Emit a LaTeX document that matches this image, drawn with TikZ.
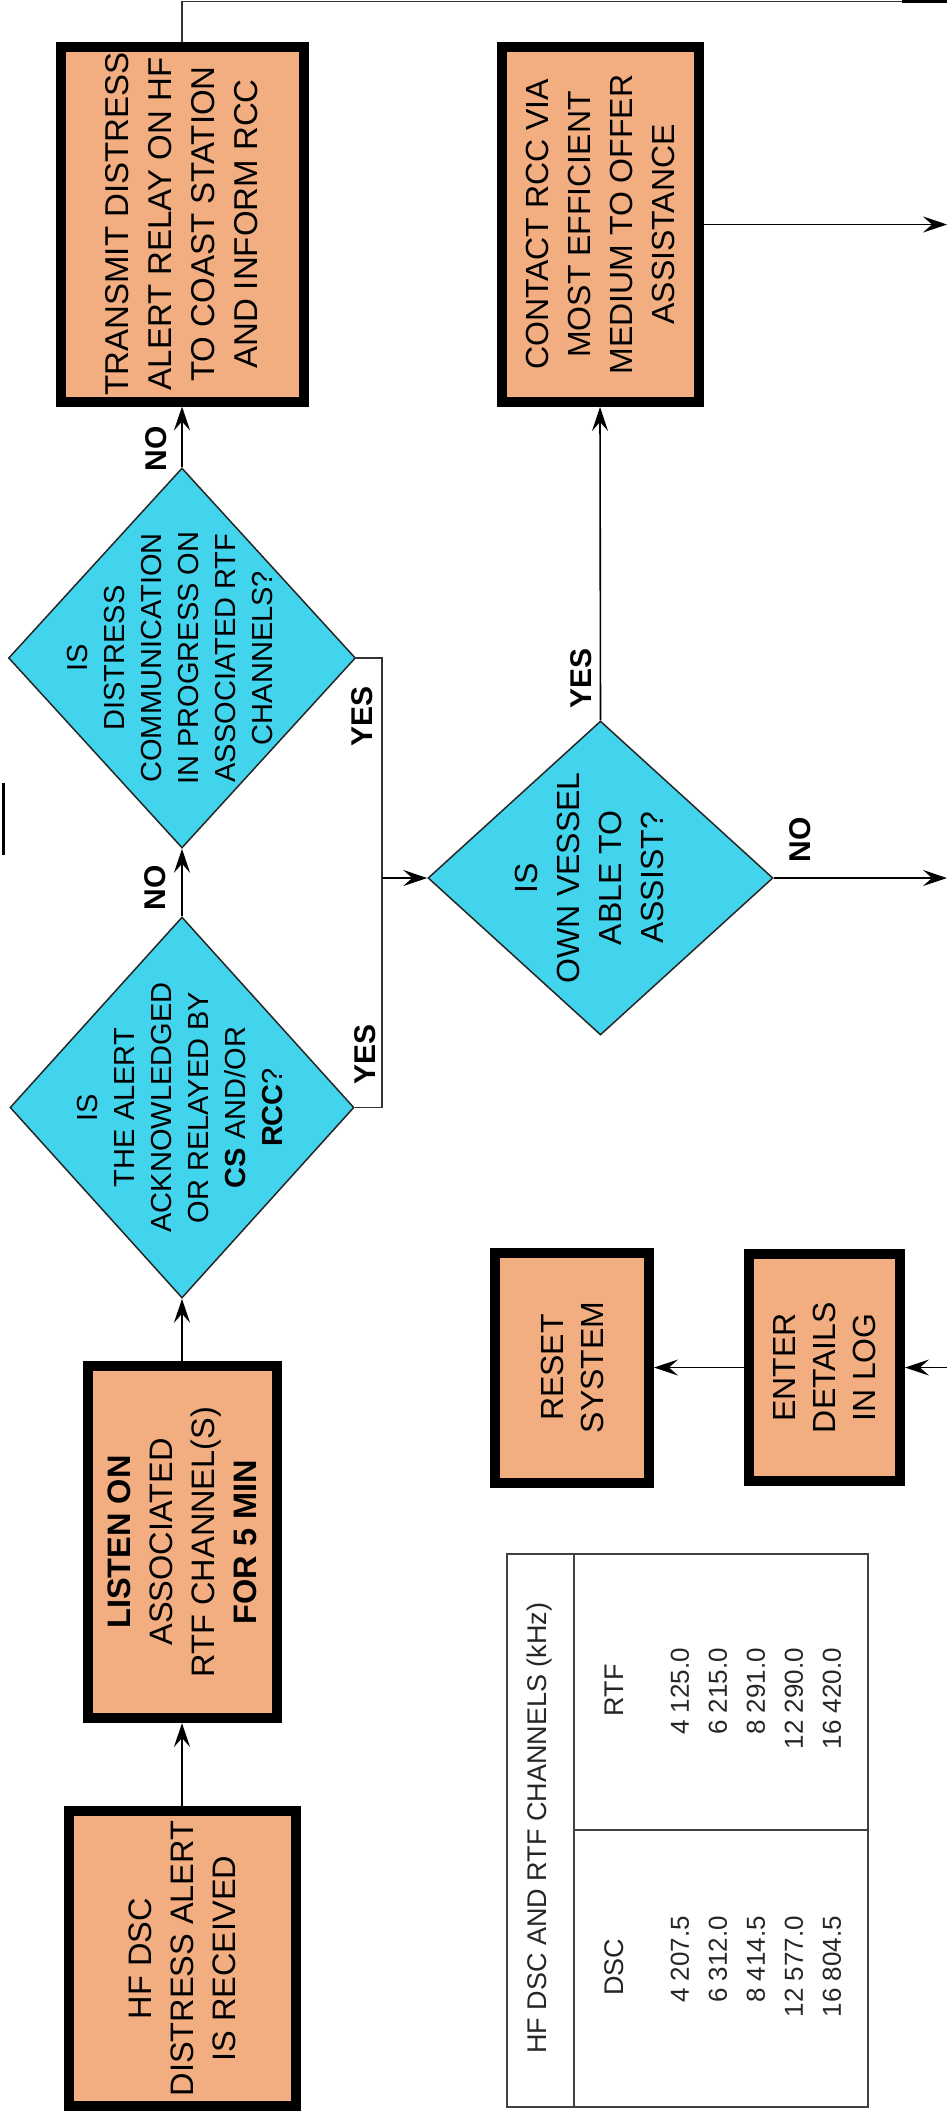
\documentclass[tikz,border=0pt]{standalone}
\usepackage{fontspec}
\setmainfont{Liberation Sans}
\usetikzlibrary{shapes.geometric,arrows.meta}
\definecolor{boxfill}{RGB}{242,174,128}
\definecolor{dfill}{RGB}{66,212,236}
\newcommand\zc[2][0pt]{\makebox[0pt]{\raisebox{\dimexpr-0.25em+#1\relax}[0pt][0pt]{$\vcenter{\hbox{\begin{tabular}{@{}c@{}}#2\end{tabular}}}$}}}
\begin{document}
\begin{tikzpicture}[x=1pt,y=-1pt,
  proc/.style={draw=black, line width=10pt, fill=boxfill, rotate=90, align=center, inner sep=0pt},
  dec/.style={diamond, draw=black!85, line width=1.5pt, fill=dfill, rotate=90, inner sep=0pt},
  lbl/.style={rotate=90, font=\fontsize{30}{30}\selectfont\bfseries, inner sep=0pt},
  conn/.style={line width=1.6pt, draw=black},
  arr/.style={conn, -{Stealth[length=24pt,width=16pt,inset=9pt]}},
  thinl/.style={line width=1.2pt, draw=black!80},
  tline/.style={line width=1.5pt, draw=black!75},
  ttxt/.style={rotate=90, inner sep=0pt, text=black!85, font=\fontsize{27}{27}\selectfont},
]
\useasboundingbox (0,0) rectangle (947,2118);
\fill[white] (0,0) rectangle (947,2118);

% process boxes
\node[proc, minimum width=355pt, minimum height=243pt, font=\fontsize{33}{43}\selectfont] (tr) at (182,224)
  {TRANSMIT DISTRESS\\ALERT RELAY ON HF\\TO COAST STATION\\AND INFORM RCC};
\node[proc, minimum width=355pt, minimum height=197pt, font=\fontsize{32}{42}\selectfont] (ct) at (600,224.5)
  {CONTACT RCC VIA\\MOST EFFICIENT\\MEDIUM TO OFFER\\ASSISTANCE};
\node[proc, minimum width=352pt, minimum height=189pt, font=\fontsize{32.5}{42}\selectfont] (ls) at (182,1542)
  {\textbf{LISTEN ON}\\ASSOCIATED\\RTF CHANNEL(S)\\\textbf{FOR 5 MIN}};
\node[proc, minimum width=295pt, minimum height=227pt, font=\fontsize{32.5}{42}\selectfont] (hf) at (182,1958.5)
  {HF DSC\\DISTRESS ALERT\\IS RECEIVED};
\node[proc, minimum width=230pt, minimum height=154pt, font=\fontsize{32}{40}\selectfont] (rs) at (572,1367.5)
  {RESET\\SYSTEM};
\node[proc, minimum width=227pt, minimum height=151pt, font=\fontsize{32}{40}\selectfont] (en) at (824.5,1367.5)
  {ENTER\\DETAILS\\IN LOG};

% decisions
\node[dec, minimum width=381pt, minimum height=344pt, font=\fontsize{29}{37}\selectfont] (d1) at (182,1107.5)
  {\zc{IS\\THE ALERT\\ACKNOWLEDGED\\OR RELAYED BY\\\textbf{CS} AND/OR\\\textbf{RCC}?}};
\node[dec, minimum width=380pt, minimum height=347pt, font=\fontsize{29}{37}\selectfont] (d2) at (182,658)
  {\zc[10pt]{IS\\DISTRESS\\COMMUNICATION\\IN PROGRESS ON\\ASSOCIATED RTF\\CHANNELS?}};
\node[dec, minimum width=314pt, minimum height=345pt, font=\fontsize{32}{42}\selectfont] (d3) at (600.5,878)
  {\zc[10pt]{IS\\OWN VESSEL\\ABLE TO\\ASSIST?}};

% labels
\node[lbl] (no1) at (155,888) {NO};
\node[lbl] (no2) at (156,449) {NO};
\node[lbl] (yes1) at (365,1054) {YES};
\node[lbl] (yes2) at (362,716) {YES};
\node[lbl] (yes3) at (581,678) {YES};
\node[lbl] (no3) at (800,840) {NO};

% connectors
\coordinate (jn) at (382,878);
\coordinate (o1) at (947,224.5);
\coordinate (o2) at (947,878);
\coordinate (i1) at (947,1367.5);
\coordinate (tc) at (182,1.5);
\coordinate (te) at (947,1.5);
\draw[arr] (hf.east) -- (ls.west);
\draw[arr] (ls.east) -- (d1.west);
\draw[arr] (d1.east) -- (d2.west);
\draw[arr] (d2.east) -- (tr.west);
\draw[thinl] (d1.south) -| (jn);
\draw[thinl] (d2.south) -| (jn);
\draw[arr] (jn) -- (d3.north);
\draw[arr] (d3.east) -- (ct.west);
\draw[arr] (ct.south) -- (o1);
\draw[arr] (d3.south) -- (o2);
\draw[arr] (i1) -- (en.south);
\draw[arr] (en.north) -- (rs.south);
\draw[thinl] (tr.east) -- (tc) -- (te);
\draw[line width=3pt] (902,1.5) -- (947,1.5);
\draw[line width=3.5pt] (3.5,783) -- (3.5,855);

% table
\draw[tline] (507,1554) rectangle (868,2107);
\draw[tline] (574,1554) -- (574,2107);
\draw[tline] (574,1830) -- (868,1830);
\node[ttxt] (ttl) at (540,1828) {HF DSC AND RTF CHANNELS (kHz)};
\node[ttxt] (hdsc) at (614,1967) {DSC};
\node[ttxt] (hrtf) at (614,1690) {RTF};
\node[ttxt, anchor=east, align=right, font=\fontsize{26}{38}\selectfont] (vdsc) at (756,1916)
  {4 207.5\\6 312.0\\8 414.5\\12 577.0\\16 804.5};
\node[ttxt, anchor=east, align=right, font=\fontsize{26}{38}\selectfont] (vrtf) at (756,1648)
  {4 125.0\\6 215.0\\8 291.0\\12 290.0\\16 420.0};
\end{tikzpicture}
\end{document}
